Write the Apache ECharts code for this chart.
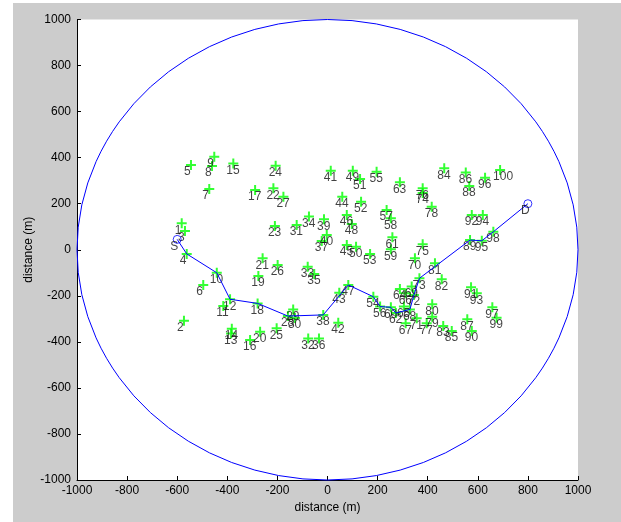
<!DOCTYPE html>
<html>
<head>
<meta charset="utf-8">
<script src="https://cdn.jsdelivr.net/npm/echarts@6/dist/echarts.min.js"></script>
<style>
html,body{margin:0;padding:0;background:#ffffff;}
#chart{width:621px;height:522px;background-image:linear-gradient(#cccccc,#cccccc);background-position:13px 3px;background-size:608px 519px;background-repeat:no-repeat;}
</style>
</head>
<body>
<div id="chart"></div>
<script>
// Node positions (m), nodes 1..100
const pointX = [-582,-573,-569,-562,-545,-496,-472,-461,-452,-442,
 -416,-389,-385,-382,-376,-309,-289,-279,-276,-269,
 -259,-216,-210,-207,-203,-199,-176,-158,-137,-130,
 -123,-77,-79,-74,-53,-34,-23,-17,-14,-3,
 13,43,47,59,77,77,83,97,101,114,
 130,134,170,183,196,210,236,253,253,253,
 259,273,289,289,305,312,312,329,336,349,
 356,345,367,380,380,380,396,416,418,418,
 429,456,462,466,496,552,558,566,569,576,
 573,576,596,620,616,629,658,662,675,689];
const pointY = [115,-308,81,-18,368,-153,264,364,404,-100,
 -244,-215,-364,-343,375,-392,259,-233,-114,-356,
 -37,267,103,365,-341,-66,230,-288,-259,-296,
 107,-385,-74,144,-105,-385,38,-283,132,64,
 343,-317,-187,230,21,151,-153,112,343,13,
 307,209,-18,-204,339,-247,173,137,2,-250,
 54,-275,293,-170,-247,-189,-319,-259,-160,-37,
 -298,-197,-124,246,24,267,-319,187,-291,-237,
 -59,-128,-331,354,-353,335,-302,277,42,-353,
 -163,151,-189,151,39,313,-250,78,-295,346];
// Source and destination
const endNames = ['S','D'];
const endX = [-600, 800];
const endY = [45, 200];
// Route through the nodes
const route = ['S',4,10,12,18,28,38,47,54,56,60,62,68,72,73,89,95,98,'D'];
// Field radius
const fieldRadius = 1000;
// Axis ticks
const axisMin = -1000, axisMax = 1000, axisStep = 200;

function nodeCoord(n){
  if (typeof n === 'string'){ const k = endNames.indexOf(n); return [endX[k], endY[k]]; }
  return [pointX[n-1], pointY[n-1]];
}

const font = 'Liberation Sans';
const labelStyle = {show:true, position:'inside', align:'left', verticalAlign:'middle', offset:[-7,7],
  color:'#111', fontSize:12, fontFamily:font, formatter: p => p.name};

const chart = echarts.init(document.getElementById('chart'));
chart.setOption({
  backgroundColor:'transparent',
  animation:false,
  grid:{left:77, right:43, top:19.5, bottom:42, show:true, backgroundColor:'#ffffff', borderWidth:0},
  xAxis:{type:'value', min:axisMin, max:axisMax, interval:axisStep,
    axisLine:{show:true, onZero:false, lineStyle:{color:'#000', width:1}},
    axisTick:{show:true, inside:true, length:4, lineStyle:{color:'#000'}},
    splitLine:{show:false},
    axisLabel:{color:'#000', fontSize:12, fontFamily:font, margin:5, formatter: v => String(v)},
    name:'distance (m)', nameLocation:'middle', nameGap:22, nameMoveOverlap:false,
    nameTextStyle:{color:'#000', fontSize:12, fontFamily:font}},
  yAxis:{type:'value', min:axisMin, max:axisMax, interval:axisStep,
    axisLine:{show:true, onZero:false, lineStyle:{color:'#000', width:1}},
    axisTick:{show:true, inside:true, length:4, lineStyle:{color:'#000'}},
    splitLine:{show:false},
    axisLabel:{color:'#000', fontSize:12, fontFamily:font, margin:6, formatter: v => String(v)},
    name:'distance (m)', nameLocation:'middle', nameGap:42, nameRotate:90, nameMoveOverlap:false,
    nameTextStyle:{color:'#000', fontSize:12, fontFamily:font}},
  series:[
    {type:'custom', data:[[0,0,fieldRadius]], encode:{x:0,y:1}, silent:true, clip:false,
     renderItem:function(params, api){
       const r = api.value(2);
       const c = api.coord([api.value(0), api.value(1)]);
       const p = api.coord([api.value(0)+r, api.value(1)+r]);
       const rx = p[0]-c[0], ry = c[1]-p[1];
       return {type:'path', shape:{pathData:'M0,50A50,50,0,1,0,100,50A50,50,0,1,0,0,50Z',
         x:c[0]-rx, y:c[1]-ry, width:2*rx, height:2*ry, layout:'cover'},
         style:{fill:'transparent', stroke:'#0000ff', lineWidth:1}};
     }},
    {type:'scatter', symbol:'path://M4,0H6V4H10V6H6V10H4V6H0V4H4Z', symbolSize:10,
     itemStyle:{color:'#00ff00'}, label:labelStyle,
     data: pointX.map((x,i)=>({name:String(i+1), value:[x, pointY[i]]}))},
    {type:'line', symbol:'none', lineStyle:{color:'#0000ff', width:1}, z:3,
     data: route.map(n => nodeCoord(n))},
    {type:'scatter', symbol:'circle', symbolSize:8,
     itemStyle:{color:'transparent', borderColor:'#0000ff', borderWidth:1}, label:labelStyle, z:4,
     data: endNames.map((n,i)=>({name:n, value:[endX[i], endY[i]]}))}
  ]
});
</script>
</body>
</html>
